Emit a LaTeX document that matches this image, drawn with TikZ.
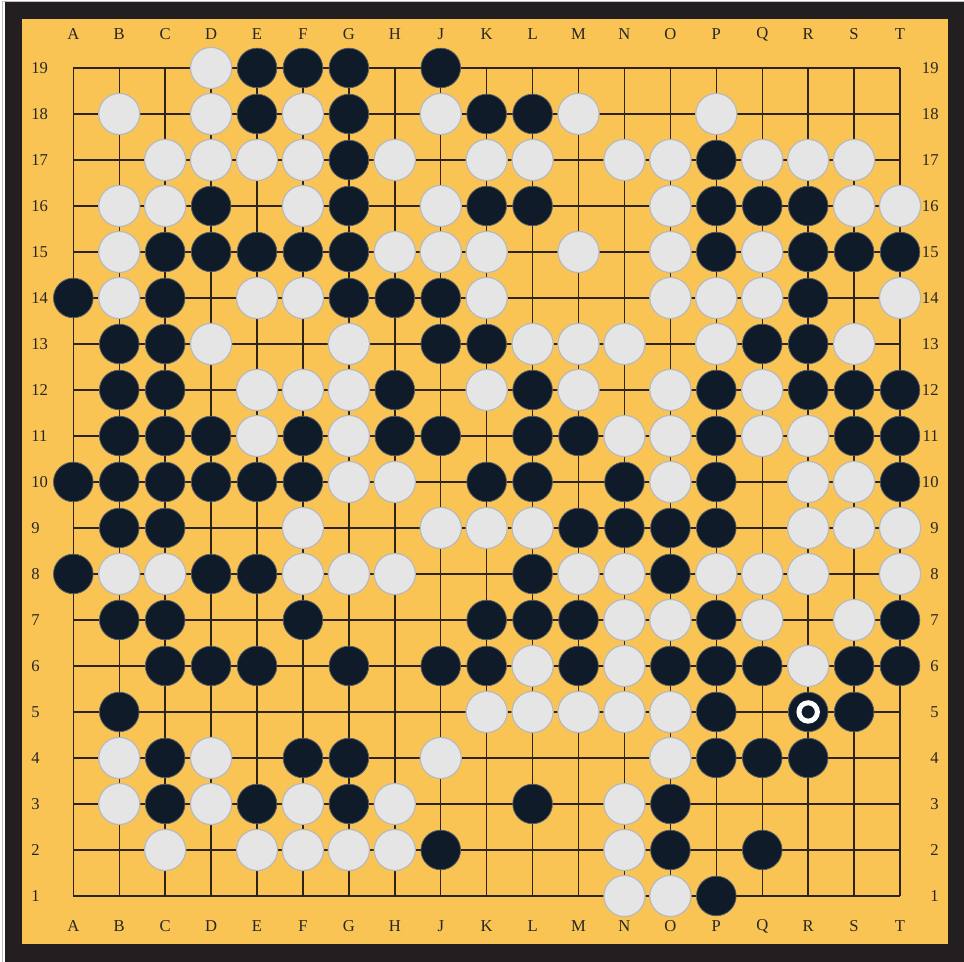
\documentclass[tikz,border=0pt]{standalone}
\usepackage{fontspec}
\setmainfont{Liberation Serif}
\usetikzlibrary{calc}

\definecolor{boardyellow}{RGB}{250,196,84}
\definecolor{framedark}{RGB}{35,31,32}
\definecolor{gridline}{RGB}{45,35,25}
\definecolor{blackstone}{RGB}{15,27,40}
\definecolor{whitestone}{RGB}{229,229,229}

\begin{document}
\begin{tikzpicture}[
    x=22.965pt, y=23pt,
    font=\fontsize{8.3}{10}\selectfont,
    gridln/.style={draw=gridline, line width=0.7pt},
    stone/.style={circle, inner sep=0pt},
    bstone/.style={stone, minimum size=19.8pt, fill=blackstone,
                   draw=blackstone!70!white, line width=0.4pt},
    wstone/.style={stone, minimum size=20.6pt, fill=whitestone,
                   draw=gray!55, line width=0.6pt},
    lbl/.style={inner sep=0pt, text=black!85},
    lastmove/.style={circle, draw=white, line width=2.5pt,
                     minimum size=9.2pt, inner sep=0pt},
  ]
  % page, frame and board
  \useasboundingbox (-1.596,-1.435) rectangle (19.393,19.478);
  \fill[white] (-1.596,-1.435) rectangle (19.393,19.478);
  \draw[gray!50, line width=0.5pt] (-1.55,-1.435) -- (-1.55,19.45) -- (19.393,19.45);
  \fill[framedark] (-1.487,-1.435) rectangle (19.393,19.435);
  \fill[boardyellow] (-1.117,-1.043) rectangle (19.044,19.065);

  % intersections
  \foreach \col [count=\i] in {A,B,C,D,E,F,G,H,J,K,L,M,N,O,P,Q,R,S,T}
    \foreach \row in {1,...,19}
      \coordinate (\col\row) at (\i-1,\row-1);

  % grid
  \foreach \row in {1,...,19}
    \draw[gridln] (A\row) -- (T\row);
  \foreach \col in {A,B,C,D,E,F,G,H,J,K,L,M,N,O,P,Q,R,S,T}
    \draw[gridln] (\col1) -- (\col19);

  % coordinates round the board
  \foreach \col [count=\i] in {A,B,C,D,E,F,G,H,J,K,L,M,N,O,P,Q,R,S,T} {
    \node[lbl] (top\col) at (\i-1,18.74) {\col};
    \node[lbl] (bot\col) at (\i-1,-0.652) {\col};
  }
  \foreach \row in {1,...,19} {
    \node[lbl, anchor=west] (left\row) at (-0.921,\row-1) {\row};
    \node[lbl, anchor=east] (right\row) at (18.848,\row-1) {\row};
  }

  % black stones
  \foreach \p in {E19,F19,G19,J19,
                  E18,G18,K18,L18,
                  G17,P17,
                  D16,G16,K16,L16,P16,Q16,R16,
                  C15,D15,E15,F15,G15,P15,R15,S15,T15,
                  A14,C14,G14,H14,J14,R14,
                  B13,C13,J13,K13,Q13,R13,
                  B12,C12,H12,L12,P12,R12,S12,T12,
                  B11,C11,D11,F11,H11,J11,L11,M11,P11,S11,T11,
                  A10,B10,C10,D10,E10,F10,K10,L10,N10,P10,T10,
                  B9,C9,M9,N9,O9,P9,
                  A8,D8,E8,L8,O8,
                  B7,C7,F7,K7,L7,M7,P7,T7,
                  C6,D6,E6,G6,J6,K6,M6,O6,P6,Q6,S6,T6,
                  B5,P5,R5,S5,
                  C4,F4,G4,P4,Q4,R4,
                  C3,E3,G3,L3,O3,
                  J2,O2,Q2,
                  P1}
    \node[bstone] (b\p) at (\p) {};

  % white stones
  \foreach \p in {D19,
                  B18,D18,F18,J18,M18,P18,
                  C17,D17,E17,F17,H17,K17,L17,N17,O17,Q17,R17,S17,
                  B16,C16,F16,J16,O16,S16,T16,
                  B15,H15,J15,K15,M15,O15,Q15,
                  B14,E14,F14,K14,O14,P14,Q14,T14,
                  D13,G13,L13,M13,N13,P13,S13,
                  E12,F12,G12,K12,M12,O12,Q12,
                  E11,G11,N11,O11,Q11,R11,
                  G10,H10,O10,R10,S10,
                  F9,J9,K9,L9,R9,S9,T9,
                  B8,C8,F8,G8,H8,M8,N8,P8,Q8,R8,T8,
                  N7,O7,Q7,S7,
                  L6,N6,R6,
                  K5,L5,M5,N5,O5,
                  B4,D4,J4,O4,
                  B3,D3,F3,H3,N3,
                  C2,E2,F2,G2,H2,N2,
                  N1,O1}
    \node[wstone] (w\p) at (\p) {};

  % last move
  \node[lastmove] (last) at (R5) {};
\end{tikzpicture}
\end{document}
